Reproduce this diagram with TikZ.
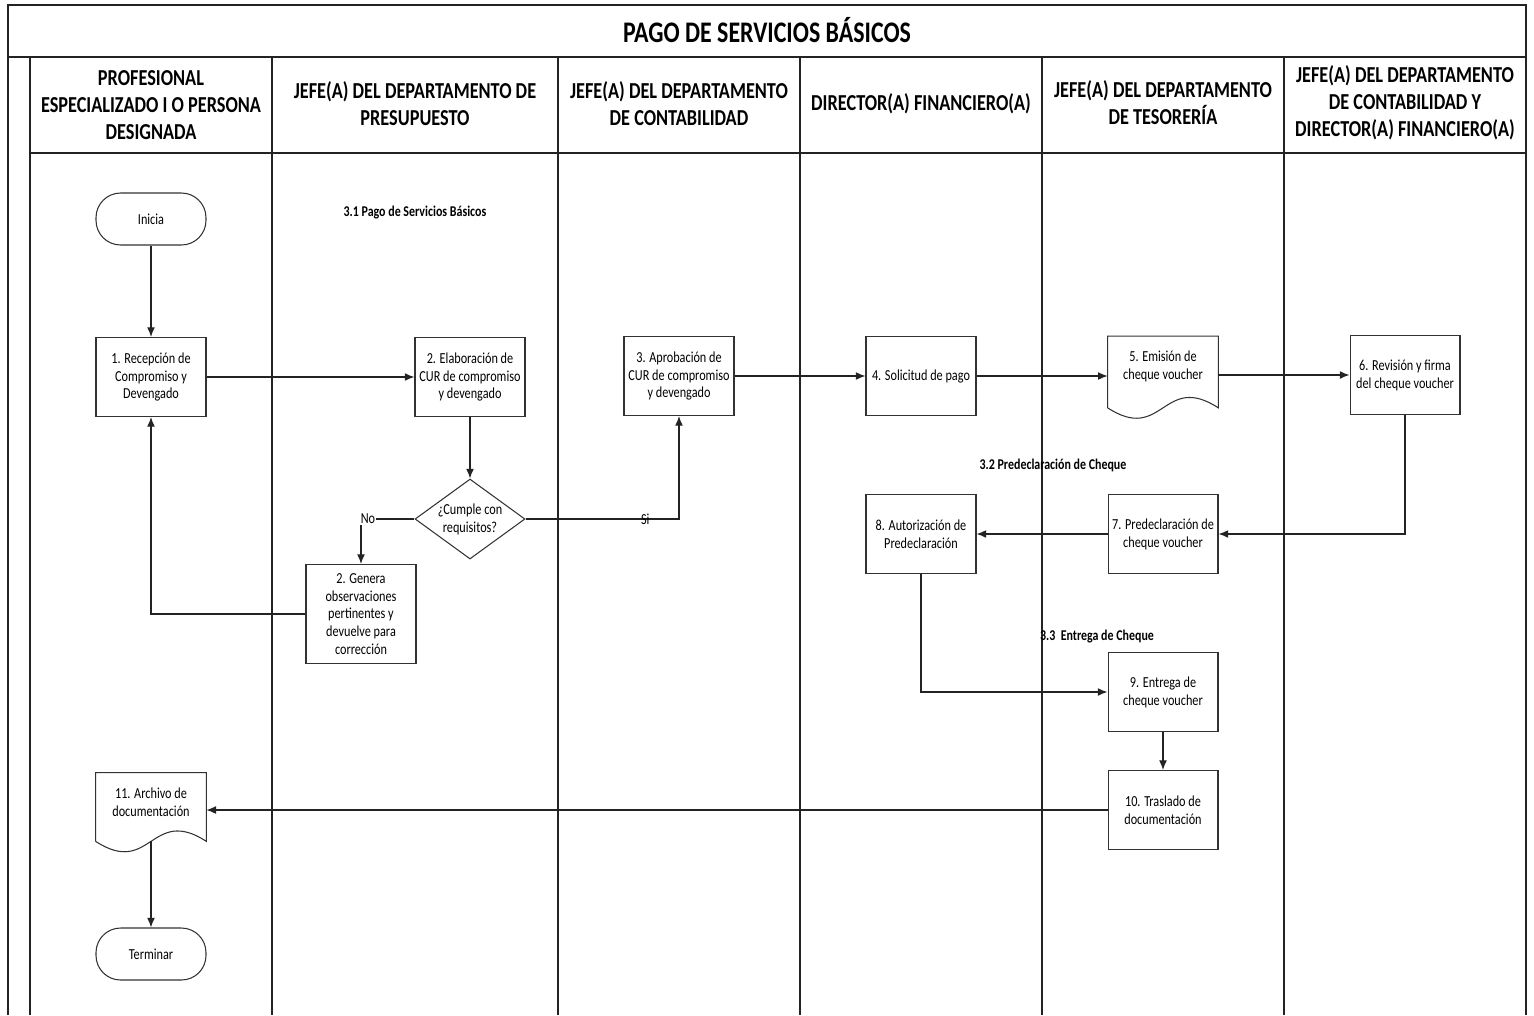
\documentclass[tikz,border=0pt]{standalone}
\usepackage{fontspec}
\setmainfont{Carlito}[FakeStretch=0.8]
\usetikzlibrary{arrows.meta,calc,shapes.geometric}
\definecolor{lane1}{RGB}{35,35,35}
\definecolor{box1}{RGB}{50,50,50}

\begin{document}
\begin{tikzpicture}[x=0.02cm, y=-0.02cm,
  lane/.style={draw=lane1, line width=0.9pt},
  proc/.style={draw=box1, line width=0.6pt, minimum width=2.2cm, minimum height=1.58cm, align=center, inner sep=1pt, font=\fontsize{8.7}{10.2}\selectfont},
  docbox/.style={minimum width=2.2cm, minimum height=1.42cm, align=center, inner sep=1pt, font=\fontsize{8.7}{10.2}\selectfont},
  term/.style={draw=box1, line width=0.6pt, rounded corners=14pt, minimum width=2.2cm, minimum height=1.04cm, font=\fontsize{8.7}{10.2}\selectfont},
  decis/.style={draw=box1, line width=0.6pt, diamond, aspect=1.375, inner sep=0pt, minimum width=2.2cm, minimum height=1.6cm, align=center, font=\fontsize{8.7}{10.2}\selectfont},
  lanehead/.style={align=center, font=\bfseries\fontsize{13}{15.3}\selectfont},
  phase/.style={font=\bfseries\fontsize{8.5}{10}\selectfont},
  arr/.style={draw=lane1, line width=0.7pt, -{Latex[length=5.5pt,width=4.5pt]}},
  lbl/.style={font=\fontsize{8.7}{10}\selectfont, inner sep=0.5pt}]
\useasboundingbox (0,0) rectangle (1534,1015);

\draw[lane] (8,1015) -- (8,5) -- (1526,5) -- (1526,1015);
\draw[lane] (8,57) -- (1526,57);
\draw[lane] (30,153) -- (1526,153);
\foreach \xl in {30,272,558,800,1042,1284}
  \draw[lane] (\xl,57) -- (\xl,1015);

\node[font=\bfseries\fontsize{17}{20}\selectfont] (title) at (767,30) {PAGO DE SERVICIOS BÁSICOS};
\node[lanehead] (hProf) at (151,105) {PROFESIONAL\\ESPECIALIZADO I O PERSONA\\DESIGNADA};
\node[lanehead] (hPres) at (415,104) {JEFE(A) DEL DEPARTAMENTO DE\\PRESUPUESTO};
\node[lanehead] (hCont) at (679,104) {JEFE(A) DEL DEPARTAMENTO\\DE CONTABILIDAD};
\node[lanehead] (hDir) at (921,104) {DIRECTOR(A) FINANCIERO(A)};
\node[lanehead] (hTes) at (1163,103) {JEFE(A) DEL DEPARTAMENTO\\DE TESORERÍA};
\node[lanehead] (hContDir) at (1405,103) {JEFE(A) DEL DEPARTAMENTO\\DE CONTABILIDAD Y\\DIRECTOR(A) FINANCIERO(A)};

\node[phase] (ph1) at (415,213) {3.1 Pago de Servicios Básicos};
\node[phase] (ph2) at (1053,465) {3.2 Predeclaración de Cheque};
\node[phase] (ph3) at (1097,637) {3.3\ \ Entrega de Cheque};

\node[term] (ini) at (151,219) {Inicia};
\node[proc] (rec) at (151,377) {1. Recepción de\\Compromiso y\\Devengado};
\node[proc] (ela) at (470,377) {2. Elaboración de\\CUR de compromiso\\y devengado};
\node[decis] (dia) at (470,519) {¿Cumple con\\requisitos?};
\node[proc, minimum height=1.98cm] (gen) at (361,614) {2. Genera\\observaciones\\pertinentes y\\devuelve para\\corrección};
\node[proc] (apr) at (679,376) {3. Aprobación de\\CUR de compromiso\\y devengado};
\node[proc] (sol) at (921,376) {4. Solicitud de pago};
\node[docbox] (emi) at (1163,372) {5. Emisión de\\cheque voucher\\[-2pt]};
\node[proc] (rev) at (1405,375) {6. Revisión y firma\\del cheque voucher};
\node[proc] (pre) at (1163,534) {7. Predeclaración de\\cheque voucher};
\node[proc] (aut) at (921,534) {8. Autorización de\\Predeclaración};
\node[proc] (ent) at (1163,692) {9. Entrega de\\cheque voucher};
\node[proc] (tra) at (1163,810) {10. Traslado de\\documentación};
\node[docbox, minimum height=1.36cm] (arc) at (151,807) {11. Archivo de\\documentación\\[-4.5pt]};
\node[term] (fin) at (151,954) {Terminar};

\draw[draw=box1, line width=0.6pt] (emi.south west) -- (emi.north west) -- (emi.north east) -- (emi.south east)
  .. controls ($(emi.south)+(0,-36)$) and ($(emi.south)+(0,36)$) .. (emi.south west);
\draw[draw=box1, line width=0.6pt] (arc.south west) -- (arc.north west) -- (arc.north east) -- (arc.south east)
  .. controls ($(arc.south)+(0,-36)$) and ($(arc.south)+(0,36)$) .. (arc.south west);

\draw[arr] (ini) -- (rec);
\draw[arr] (rec) -- (ela);
\draw[arr] (ela) -- (dia);
\draw[arr] (dia.west) -| node[lbl, pos=0.435, fill=white] {No} (gen.north);
\draw[arr] (dia.east) -| node[lbl, pos=0.39] {Si} (apr.south);
\draw[arr] (gen.west) -| (rec.south);
\draw[arr] (apr) -- (sol);
\draw[arr] (sol.east) -- (sol.east -| emi.west);
\draw[arr] (emi.east |- rev.west) -- (rev.west);
\draw[arr] (rev.south) |- (pre.east);
\draw[arr] (pre) -- (aut);
\draw[arr] (aut.south) |- (ent.west);
\draw[arr] (ent) -- (tra);
\draw[arr] (tra.west) -- (tra.west -| arc.east);
\draw[arr] (arc.south) -- (fin.north);
\end{tikzpicture}
\end{document}
